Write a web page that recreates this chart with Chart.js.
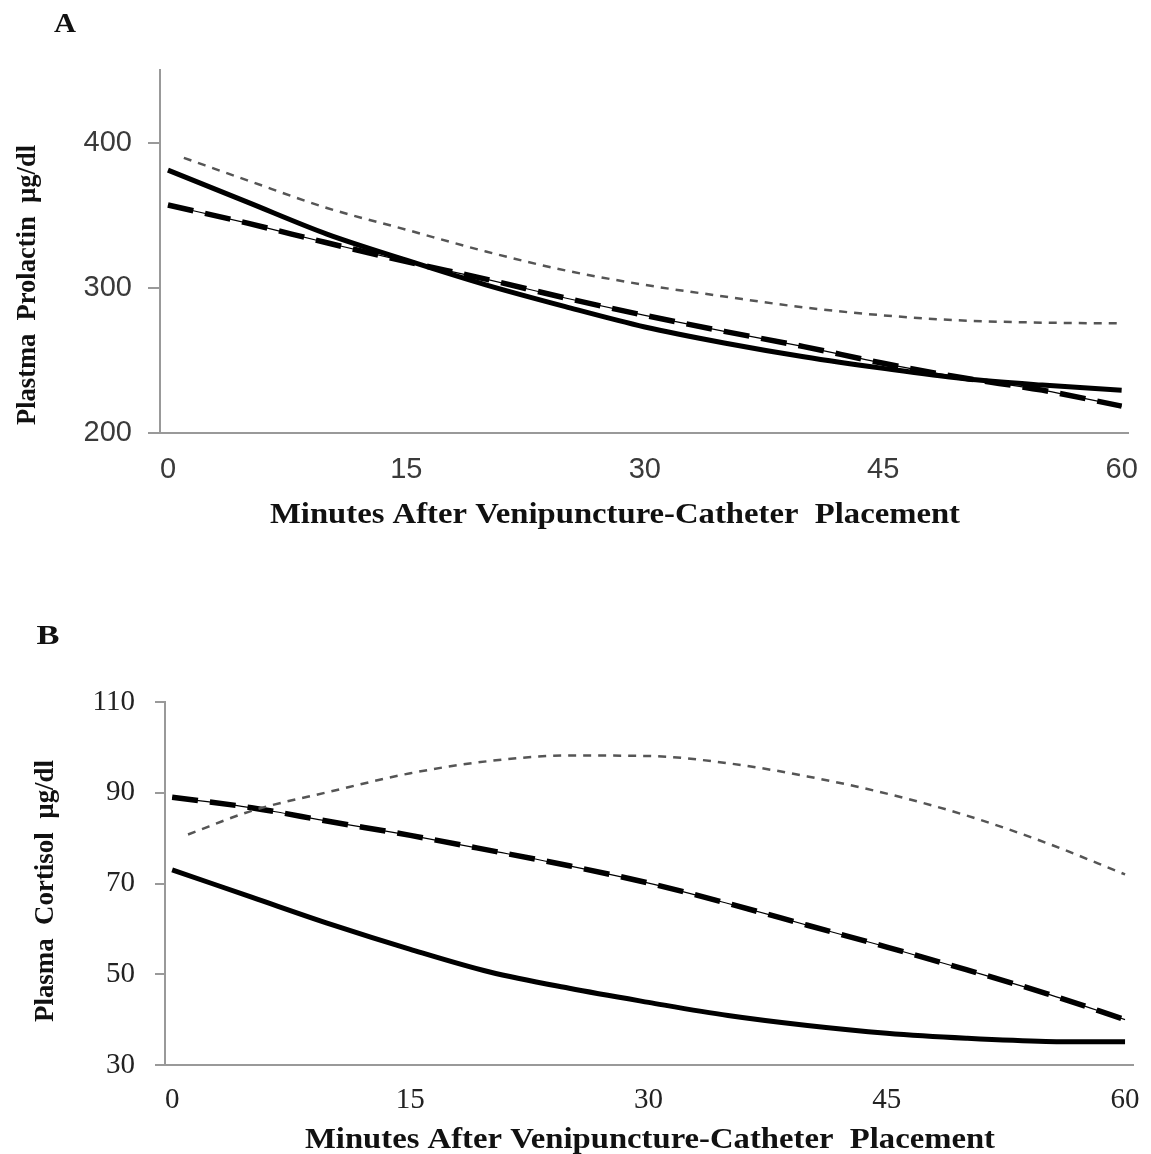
<!DOCTYPE html>
<html>
<head>
<meta charset="utf-8">
<script src="https://cdn.jsdelivr.net/npm/chart.js@4.4.1/dist/chart.umd.min.js"></script>
<style>
  body { margin: 0; background: #fff; width: 1151px; height: 1154px; overflow: hidden; }
  .panel { position: absolute; left: 0; width: 1151px; }
</style>
</head>
<body>
<div class="panel" style="top:0;height:580px"><canvas id="chartA" width="1151" height="580"></canvas></div>
<div class="panel" style="top:580px;height:574px"><canvas id="chartB" width="1151" height="574"></canvas></div>
<script>
// minutes after venipuncture-catheter placement
const minutes = [0, 5, 10, 15, 20, 25, 30, 35, 40, 45, 50, 55, 60];
const minutesLate = [1, 5, 10, 15, 20, 25, 30, 35, 40, 45, 50, 55, 60];

// panel A - plasma prolactin
const prolactinSolid = [381, 359, 337, 319, 302, 287, 273, 262, 252.5, 244.5, 237.5, 233, 229.5];
const prolactinLongDash = [357, 344.5, 331, 318, 306, 293, 281, 270, 259.5, 248, 238, 229.5, 218.5];
const prolactinShortDash = [389.5, 374, 355, 340, 325, 312, 302, 294, 286.5, 281, 277.5, 276, 275.5];
const prolactinTicks = [200, 300, 400];

// panel B - plasma cortisol
const cortisolSolid = [73, 67, 61, 55.5, 50.5, 46.9, 43.8, 40.9, 38.7, 37, 35.9, 35.2, 35.1];
const cortisolLongDash = [89, 86.7, 83.6, 80.6, 77.3, 73.9, 70.1, 65.6, 60.8, 56, 51, 45.8, 40];
const cortisolShortDash = [80.8, 86, 90.3, 94.3, 97, 98.2, 98.1, 96.5, 93.6, 89.8, 85, 79, 72];
const cortisolTicks = [30, 50, 70, 90, 110];

const xTicks = [0, 15, 30, 45, 60];
const xTitle = 'Minutes After Venipuncture-Catheter  Placement';

function pts(xs, ys) {
    return xs.map((x, i) => ({ x: x, y: ys[i] }));
}

// draws panel letters and axis titles (fitted to the target width)
const panelText = {
    id: 'panelText',
    afterDraw(chart, args, opts) {
        const ctx = chart.ctx;
        opts.items.forEach(t => {
            ctx.save();
            ctx.font = t.font;
            ctx.fillStyle = '#111';
            ctx.textAlign = 'center';
            ctx.textBaseline = 'middle';
            ctx.translate(t.x, t.y);
            if (t.rotate) ctx.rotate(t.rotate);
            const sx = t.w ? t.w / ctx.measureText(t.text).width : 1;
            ctx.scale(sx, 1);
            ctx.fillText(t.text, 0, 0);
            ctx.restore();
        });
    }
};

function lineSets(solid, longDash, shortDash) {
    return [
        {
            data: pts(minutesLate, shortDash),
            borderColor: '#555',
            borderWidth: 2.5,
            borderDash: [8, 7]
        },
        {
            data: pts(minutes, longDash),
            borderColor: '#000',
            borderWidth: 1.2
        },
        {
            data: pts(minutes, longDash),
            borderColor: '#000',
            borderWidth: 5.5,
            borderDash: [26, 12]
        },
        {
            data: pts(minutes, solid),
            borderColor: '#000',
            borderWidth: 5
        }
    ];
}

function makeChart(id, cfg) {
    const ctx = document.getElementById(id).getContext('2d');
    return new Chart(ctx, {
        type: 'line',
        data: { datasets: lineSets(cfg.solid, cfg.longDash, cfg.shortDash) },
        plugins: [panelText],
        options: {
            responsive: false,
            animation: false,
            layout: { padding: cfg.padding },
            elements: {
                point: { radius: 0 },
                line: { tension: 0.4, cubicInterpolationMode: 'monotone', fill: false }
            },
            plugins: {
                legend: { display: false },
                tooltip: { enabled: false },
                panelText: { items: cfg.texts }
            },
            scales: {
                x: {
                    type: 'linear',
                    min: cfg.xMin,
                    max: cfg.xMax,
                    afterBuildTicks: s => { s.ticks = xTicks.map(v => ({ value: v })); },
                    afterFit: s => {
                        s.height = 60;
                        s.paddingLeft = 0;
                        s.paddingRight = 0;
                    },
                    grid: { display: true, drawOnChartArea: false, drawTicks: false },
                    border: { display: true, color: '#999', width: 2 },
                    ticks: {
                        padding: cfg.xPad,
                        maxRotation: 0,
                        color: cfg.tickColor,
                        font: { family: cfg.tickFont, size: 29 }
                    }
                },
                y: {
                    min: cfg.yMin,
                    max: cfg.yMax,
                    afterBuildTicks: s => { s.ticks = cfg.yTicks.map(v => ({ value: v })); },
                    afterFit: s => { s.width = cfg.yWidth; },
                    grid: { drawOnChartArea: false, drawTicks: true, tickLength: cfg.tickLen, color: '#999', lineWidth: 2 },
                    border: { display: true, color: '#999', width: 2 },
                    ticks: {
                        padding: cfg.yPad,
                        color: cfg.tickColor,
                        font: { family: cfg.tickFont, size: 29 }
                    }
                }
            }
        }
    });
}

makeChart('chartA', {
    solid: prolactinSolid,
    longDash: prolactinLongDash,
    shortDash: prolactinShortDash,
    yTicks: prolactinTicks,
    yMin: 200, yMax: 450,
    xMin: -0.5, xMax: 60.4,
    padding: { left: 0, top: 70, right: 23, bottom: 87 },
    yWidth: 160, tickLen: 12, yPad: 16, xPad: 20,
    tickFont: 'Liberation Sans', tickColor: '#3a3a3a',
    texts: [
        { text: 'A', x: 65, y: 25, font: 'bold 28px "Liberation Serif"', w: 22 },
        { text: 'Plastma  Prolactin  µg/dl', x: 28, y: 285, rotate: -Math.PI / 2, font: 'bold 28px "Liberation Serif"', w: 280 },
        { text: xTitle, x: 615, y: 515, font: 'bold 30px "Liberation Serif"', w: 690 }
    ]
});

makeChart('chartB', {
    solid: cortisolSolid,
    longDash: cortisolLongDash,
    shortDash: cortisolShortDash,
    yTicks: cortisolTicks,
    yMin: 30, yMax: 110,
    xMin: -0.45, xMax: 60.5,
    padding: { left: 0, top: 122, right: 18, bottom: 29 },
    yWidth: 165, tickLen: 10, yPad: 20, xPad: 18,
    tickFont: 'Liberation Serif', tickColor: '#222',
    texts: [
        { text: 'B', x: 48, y: 57, font: 'bold 28px "Liberation Serif"', w: 23 },
        { text: 'Plasma  Cortisol  µg/dl', x: 46, y: 311, rotate: -Math.PI / 2, font: 'bold 28px "Liberation Serif"', w: 262 },
        { text: xTitle, x: 650, y: 560, font: 'bold 30px "Liberation Serif"', w: 690 }
    ]
});
</script>
</body>
</html>
